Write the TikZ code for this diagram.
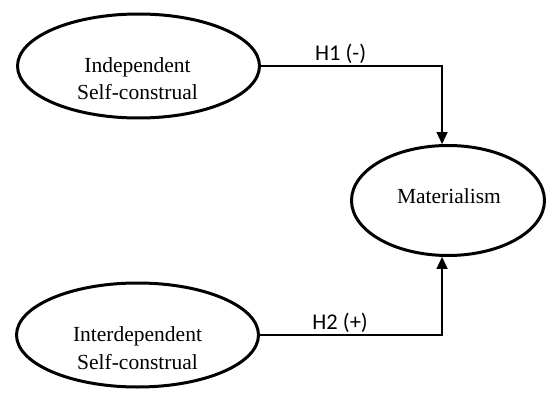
\documentclass[tikz,border=0pt]{standalone}
\usepackage{fontspec}
\setmainfont{Liberation Serif}
\newfontfamily\hfont{Carlito}
\usetikzlibrary{shapes.geometric,arrows.meta,positioning}
\tikzset{
  construct/.style={ellipse,draw,line width=3pt,inner sep=0pt,minimum width=242pt,minimum height=104pt},
  construct text/.style={align=center,inner sep=0pt,font=\fontsize{21.5}{27.5}\selectfont},
  path/.style={line width=1.4pt,-{Triangle[length=12pt,width=11pt]}},
  hyp/.style={above,inner sep=1.2pt,font=\hfont\fontsize{22.5}{26}\selectfont}
}

\begin{document}
\begin{tikzpicture}[x=1pt,y=-1pt]
		\useasboundingbox (0,0) rectangle (547,396);
		% latent constructs
		\node[construct] (ind) at (138.5,66) {};
		\node[construct] (int) at (137.5,335) {};
		\node[construct,minimum width=193pt,minimum height=110pt] (mat) at (448,200.5) {};
		\node[construct text] (indtxt) at (137.5,78.5) {Independent\\Self-construal};
		\node[construct text] (inttxt) at (137.5,348) {Interdependent\\Self-construal};
		\node[construct text] (mattxt) at (449,196) {Materialism};
		% hypotheses
		\draw[path] (ind.east) -| node[hyp,pos=0.22] (hone) {H1 (-)} (mat.96);
		\draw[path] (int.east) -| node[hyp,pos=0.22] (htwo) {H2 (+)} (mat.264);
		%\draw[dashed] (ind.south) -- (int.north);
\end{tikzpicture}
\end{document}
